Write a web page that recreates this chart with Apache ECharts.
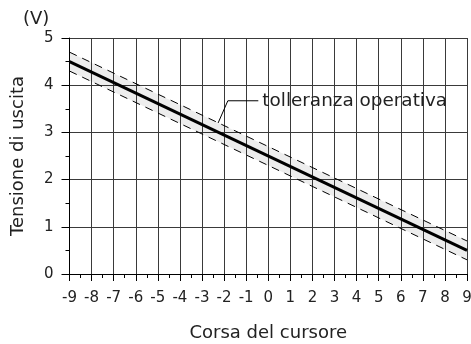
<!DOCTYPE html>
<html>
<head>
<meta charset="utf-8">
<script src="https://cdn.jsdelivr.net/npm/echarts@6/dist/echarts.min.js"></script>
<style>
  html, body { margin: 0; padding: 0; background: #fff; }
  #chart { width: 471px; height: 344px; }
</style>
</head>
<body>
<div id="chart"></div>
<script>
// Cursor travel (x) vs output voltage (y), endpoints of each line
const travel = [-9, 9];
const nominal = [4.5, 0.5];
const upperLimit = [4.7, 0.7];
const lowerLimit = [4.3, 0.3];

// Leader line for the tolerance callout, in data units
const calloutPath = [[-2.27, 3.2], [-1.83, 3.67], [-0.45, 3.67]];
const calloutText = 'tolleranza operativa';

const xTicks = [-9, -8, -7, -6, -5, -4, -3, -2, -1, 0, 1, 2, 3, 4, 5, 6, 7, 8, 9];
const yTicks = [0, 1, 2, 3, 4, 5];

const FONT = 'DejaVu Sans';
const TEXT = '#222';

const pairs = (ys) => travel.map((x, i) => [x, ys[i]]);

const chart = echarts.init(document.getElementById('chart'), null, { renderer: 'canvas' });

chart.setOption({
  animation: false,
  backgroundColor: '#fff',
  title: {
    text: '(V)',
    left: 18,
    top: 5,
    textStyle: { fontFamily: FONT, fontSize: 18, fontWeight: 'normal', color: TEXT }
  },
  grid: { left: 69.5, right: 4, top: 38, bottom: 70, containLabel: false, outerBoundsMode: 'none' },
  xAxis: {
    type: 'value',
    min: xTicks[0],
    max: xTicks[xTicks.length - 1],
    interval: 1,
    name: 'Corsa del cursore',
    nameLocation: 'middle',
    nameGap: 50,
    nameTextStyle: { fontFamily: FONT, fontSize: 18, color: TEXT },
    axisLine: { onZero: false, lineStyle: { color: '#000', width: 1 } },
    axisTick: { show: true, length: 7, lineStyle: { color: '#000' } },
    minorTick: { show: true, splitNumber: 2, length: 4, lineStyle: { color: '#000' } },
    axisLabel: { fontFamily: FONT, fontSize: 15, color: TEXT, margin: 17 },
    splitLine: { show: true, lineStyle: { color: '#3a3a3a', width: 1 } }
  },
  yAxis: {
    type: 'value',
    min: yTicks[0],
    max: yTicks[yTicks.length - 1],
    interval: 1,
    name: 'Tensione di uscita',
    nameLocation: 'middle',
    nameGap: 42,
    nameTextStyle: { fontFamily: FONT, fontSize: 18, color: TEXT },
    axisLine: { show: true, onZero: false, lineStyle: { color: '#000', width: 1 } },
    axisTick: { show: true, length: 8, lineStyle: { color: '#000' } },
    minorTick: { show: true, splitNumber: 2, length: 4, lineStyle: { color: '#000' } },
    axisLabel: { fontFamily: FONT, fontSize: 15, color: TEXT, margin: 16 },
    splitLine: { show: true, lineStyle: { color: '#3a3a3a', width: 1 } }
  },
  series: [
    {
      // shaded tolerance band between the limit lines
      type: 'custom',
      silent: true,
      z: 1,
      data: [0],
      renderItem: (params, api) => {
        const pts = [];
        travel.forEach((x, i) => pts.push(api.coord([x, upperLimit[i]])));
        for (let i = travel.length - 1; i >= 0; i--) pts.push(api.coord([travel[i], lowerLimit[i]]));
        return {
          type: 'polygon',
          shape: { points: pts },
          style: { fill: 'rgba(0,0,0,0.07)' }
        };
      }
    },
    {
      type: 'line',
      data: pairs(upperLimit),
      symbol: 'none',
      z: 3,
      lineStyle: { color: '#000', width: 1, type: [8, 6] }
    },
    {
      type: 'line',
      data: pairs(lowerLimit),
      symbol: 'none',
      z: 3,
      lineStyle: { color: '#000', width: 1, type: [8, 6] }
    },
    {
      type: 'line',
      data: pairs(nominal),
      symbol: 'none',
      z: 4,
      lineStyle: { color: '#000', width: 3 }
    },
    {
      type: 'line',
      data: calloutPath,
      symbol: 'none',
      z: 5,
      lineStyle: { color: '#000', width: 1 },
      endLabel: {
        show: true,
        distance: 4,
        formatter: calloutText,
        fontFamily: FONT,
        fontSize: 18.4,
        color: TEXT
      }
    }
  ]
});
</script>
</body>
</html>
